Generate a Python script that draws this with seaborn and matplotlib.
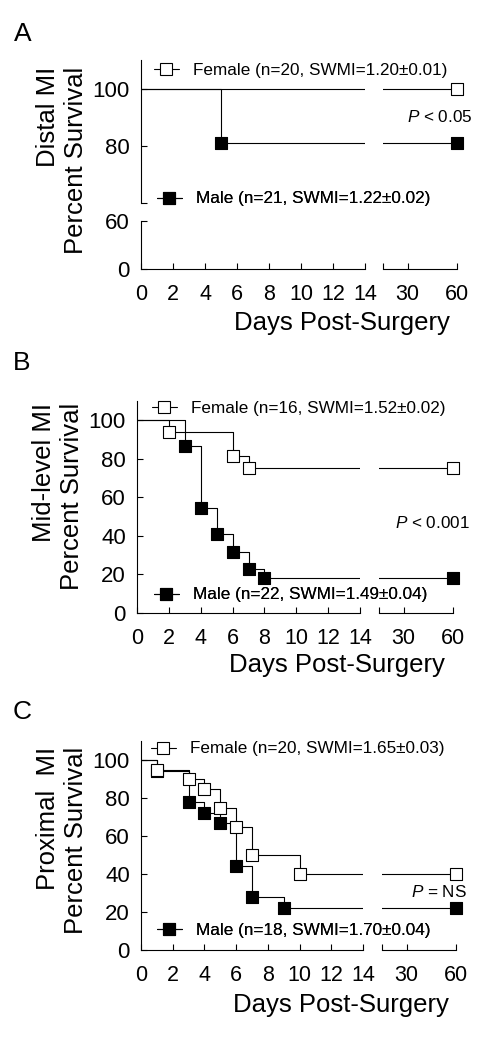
import matplotlib
matplotlib.use('Agg')
from matplotlib import pyplot as plt
from matplotlib.lines import Line2D
import seaborn as sns

# survival data (event day -> percent surviving)
a_female_days = []
a_female_surv = []
a_male_days = [5]
a_male_surv = [81.0]

b_female_days = [2, 6, 7]
b_female_surv = [93.8, 81.3, 75.0]
b_male_days = [3, 4, 5, 6, 7, 8]
b_male_surv = [86.4, 54.5, 40.9, 31.8, 22.7, 18.2]

c_female_days = [1, 3, 4, 5, 6, 7, 10]
c_female_surv = [95.0, 90.0, 85.0, 75.0, 65.0, 50.0, 40.0]
c_male_days = [1, 3, 4, 5, 6, 7, 9]
c_male_surv = [94.4, 77.8, 72.2, 66.7, 44.4, 27.8, 22.2]

end_day = 60
panel_letters = ['A', 'B', 'C']
region_names = ['Distal MI', 'Mid-level MI', 'Proximal  MI']
female_labels = ['Female (n=20, SWMI=1.20\u00b10.01)',
                 'Female (n=16, SWMI=1.52\u00b10.02)',
                 'Female (n=20, SWMI=1.65\u00b10.03)']
male_labels = ['Male (n=21, SWMI=1.22\u00b10.02)',
               'Male (n=22, SWMI=1.49\u00b10.04)',
               'Male (n=18, SWMI=1.70\u00b10.04)']
p_texts = ['$P$ < 0.05', '$P$ < 0.001', '$P$ = NS']
left_xticks = [0, 2, 4, 6, 8, 10, 12, 14]
right_xticks = [15, 30, 60]
right_xticklabels = ['', '30', '60']

sns.set_style('ticks')
plt.rcParams['font.family'] = ['Liberation Sans', 'DejaVu Sans']
plt.rcParams['mathtext.fontset'] = 'custom'
plt.rcParams['mathtext.it'] = 'Liberation Sans:italic'
plt.rcParams['mathtext.rm'] = 'Liberation Sans'
for key in ['text.color', 'axes.labelcolor', 'axes.edgecolor',
            'xtick.color', 'ytick.color']:
    plt.rcParams[key] = 'black'

W, H = 487, 1050
fig = plt.figure(figsize=(W / 100, H / 100), dpi=100)
fig.patch.set_facecolor('white')

LW = 0.8


def px_rect(x0, x1, ytop, ybot):
    return [x0 / W, 1 - ybot / H, (x1 - x0) / W, (ybot - ytop) / H]


def fx(x):
    return x / W


def fy(y):
    return 1 - y / H


def style_axes(ax, left=True, bottom=True):
    for side in ['top', 'right']:
        ax.spines[side].set_visible(False)
    ax.spines['left'].set_visible(left)
    ax.spines['bottom'].set_visible(bottom)
    for sp in ax.spines.values():
        sp.set_linewidth(LW)
        sp.set_color('black')
    ax.set_facecolor('none')
    ax.tick_params(axis='y', direction='in', length=4, width=LW, pad=8,
                   labelsize=16, left=left, labelleft=left, colors='black')
    ax.tick_params(axis='x', direction='in', length=4, width=LW, pad=11,
                   labelsize=15.5, bottom=bottom, labelbottom=bottom,
                   colors='black')
    ax.set_xlabel('')
    ax.set_ylabel('')


def draw_curve(ax, days, surv, filled, xlo, xhi):
    last = surv[-1] if surv else 100
    x = [0] + days + [end_day]
    y = [100] + surv + [last]
    sns.lineplot(x=x, y=y, drawstyle='steps-post', color='black', lw=LW,
                 estimator=None, sort=False, ax=ax, legend=False)
    mx = [d for d in days + [end_day] if xlo <= d <= xhi]
    my = [v for d, v in zip(days + [end_day], surv + [last]) if xlo <= d <= xhi]
    if mx:
        sns.scatterplot(x=mx, y=my, marker='s', s=75,
                        color='black' if filled else 'white',
                        edgecolor='black', linewidth=LW, clip_on=False,
                        zorder=4, ax=ax, legend=False)


def add_legend(ax, label, filled, x, y):
    h = Line2D([0], [0], color='black', lw=LW, marker='s', markersize=8.5,
               markerfacecolor='black' if filled else 'white',
               markeredgecolor='black', markeredgewidth=LW)
    leg = ax.legend(handles=[h], labels=[label], loc='center left',
                    bbox_to_anchor=(fx(x), fy(y)), bbox_transform=fig.transFigure,
                    frameon=False, fontsize=12.3, handlelength=1.46,
                    handletextpad=0.82, borderpad=0, borderaxespad=0, numpoints=1,
                    labelcolor='black')
    ax.add_artist(leg)


# pixel geometry of each panel: left x-span, right x-span, y-span
panels = [
    dict(left=(141, 365), right=(383, 457), y=(60, 269),
         series=(a_female_days, a_female_surv, a_male_days, a_male_surv),
         xlab=(342, 323), ylab=(62, 67), letter=(23, 34), p=(473, 117),
         fleg=(154, 70), mleg=(157, 199)),
    dict(left=(137, 360), right=(379, 453), y=(401, 613),
         series=(b_female_days, b_female_surv, b_male_days, b_male_surv),
         xlab=(337, 665), ylab=(58, 403), letter=(22, 363), p=(470, 523),
         fleg=(152, 408), mleg=(154, 595)),
    dict(left=(141, 363), right=(382, 456), y=(741, 950),
         series=(c_female_days, c_female_surv, c_male_days, c_male_surv),
         xlab=(341, 1005), ylab=(62, 747), letter=(22, 712), p=(467, 892),
         fleg=(151, 749), mleg=(157, 930)),
]

for i, p in enumerate(panels):
    fd, fs, md, ms = p['series']
    if i == 0:
        # panel A has a broken y axis: 60-110 on top, 0-60 below
        ul = fig.add_axes(px_rect(*p['left'], 60, 203))
        ur = fig.add_axes(px_rect(*p['right'], 60, 203))
        ll = fig.add_axes(px_rect(*p['left'], 221, 269))
        lr = fig.add_axes(px_rect(*p['right'], 221, 269))
        for ax, xl in [(ul, (0, 14)), (ur, (15, 60))]:
            draw_curve(ax, md, ms, True, *xl)
            draw_curve(ax, fd, fs, False, *xl)
            ax.set_xlim(*xl)
            ax.set_ylim(60, 110)
        style_axes(ul, left=True, bottom=False)
        style_axes(ur, left=False, bottom=False)
        ul.set_yticks([60, 80, 100])
        ul.set_yticklabels(['', '80', '100'])
        ll.set_xlim(0, 14)
        ll.set_ylim(0, 60)
        lr.set_xlim(15, 60)
        lr.set_ylim(0, 60)
        style_axes(ll, left=True, bottom=True)
        style_axes(lr, left=False, bottom=True)
        ll.set_yticks([0, 60])
        bottom_left, bottom_right = ll, lr
        leg_ax = ul
    else:
        al = fig.add_axes(px_rect(*p['left'], *p['y']))
        ar = fig.add_axes(px_rect(*p['right'], *p['y']))
        for ax, xl in [(al, (0, 14)), (ar, (15, 60))]:
            draw_curve(ax, md, ms, True, *xl)
            draw_curve(ax, fd, fs, False, *xl)
            ax.set_xlim(*xl)
            ax.set_ylim(0, 110)
        style_axes(al, left=True, bottom=True)
        style_axes(ar, left=False, bottom=True)
        al.set_yticks([0, 20, 40, 60, 80, 100])
        bottom_left, bottom_right = al, ar
        leg_ax = al

    bottom_left.set_xticks(left_xticks)
    bottom_right.set_xticks(right_xticks)
    bottom_right.set_xticklabels(right_xticklabels)

    add_legend(leg_ax, female_labels[i], False, *p['fleg'])
    add_legend(leg_ax, male_labels[i], True, *p['mleg'])

    fig.text(fx(p['xlab'][0]), fy(p['xlab'][1]), 'Days Post-Surgery',
             fontsize=18.5, ha='center', va='center')
    fig.text(fx(p['ylab'][0]), fy(p['ylab'][1]),
             region_names[i] + '\nPercent Survival', fontsize=18.5,
             rotation=90, ha='center', va='top', multialignment='right',
             linespacing=1.2)
    fig.text(fx(p['letter'][0]), fy(p['letter'][1]), panel_letters[i],
             fontsize=19, ha='center', va='center')
    fig.text(fx(p['p'][0]), fy(p['p'][1]), p_texts[i], fontsize=12.3,
             ha='right', va='center')

plt.savefig('out.png', dpi=100, facecolor='white')
plt.clf()
